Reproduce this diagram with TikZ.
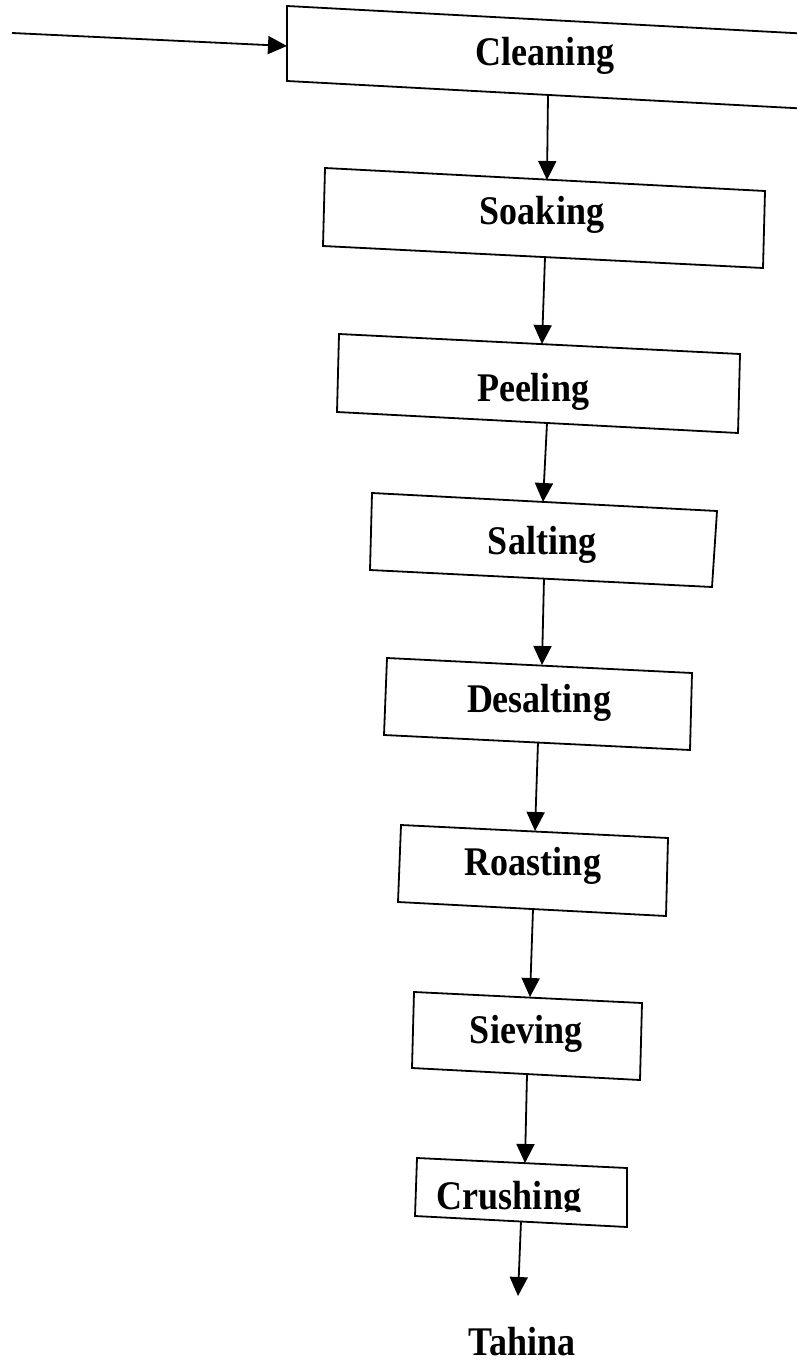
\documentclass[tikz,border=0pt]{standalone}
\usepackage{fontspec}
\setmainfont{Liberation Serif}
\usetikzlibrary{arrows.meta}
\newcommand{\tallbold}[1]{\scalebox{1}[1.13]{#1}}
\tikzset{
  flowbox/.style={draw=black, line width=1.8pt, line join=miter},
  flowarrow/.style={draw=black, line width=1.8pt, -{Triangle[length=19pt,width=18pt]}},
  steplabel/.style={font=\bfseries\fontsize{36}{40}\selectfont, anchor=base, inner sep=0pt},
}
\begin{document}
\begin{tikzpicture}[x=1pt,y=-1pt]
\useasboundingbox (0,0) rectangle (797,1364);
\clip (0,0) rectangle (797,1364);
\fill[white] (0,0) rectangle (797,1364);

% box corners
\coordinate (c1) at (287,6);   \coordinate (c2) at (830,35);  \coordinate (c3) at (830,110); \coordinate (c4) at (287,81);
\coordinate (s1) at (325,168); \coordinate (s2) at (765,191); \coordinate (s3) at (763,268); \coordinate (s4) at (323,246);
\coordinate (p1) at (339,334); \coordinate (p2) at (740,354); \coordinate (p3) at (738,433); \coordinate (p4) at (337,412);
\coordinate (a1) at (372,493); \coordinate (a2) at (717,511); \coordinate (a3) at (712,587); \coordinate (a4) at (370,570);
\coordinate (d1) at (387,658); \coordinate (d2) at (692,673); \coordinate (d3) at (690,750); \coordinate (d4) at (384,735);
\coordinate (r1) at (401,825); \coordinate (r2) at (668,838); \coordinate (r3) at (666,916); \coordinate (r4) at (398,902);
\coordinate (v1) at (414,992); \coordinate (v2) at (642,1003); \coordinate (v3) at (640,1080); \coordinate (v4) at (412,1068);
\coordinate (u1) at (417,1158); \coordinate (u2) at (627,1168); \coordinate (u3) at (627,1227); \coordinate (u4) at (415,1216);

% boxes
\draw[flowbox] (c1) -- (c2) -- (c3) -- (c4) -- cycle;
\draw[flowbox] (s1) -- (s2) -- (s3) -- (s4) -- cycle;
\draw[flowbox] (p1) -- (p2) -- (p3) -- (p4) -- cycle;
\draw[flowbox] (a1) -- (a2) -- (a3) -- (a4) -- cycle;
\draw[flowbox] (d1) -- (d2) -- (d3) -- (d4) -- cycle;
\draw[flowbox] (r1) -- (r2) -- (r3) -- (r4) -- cycle;
\draw[flowbox] (v1) -- (v2) -- (v3) -- (v4) -- cycle;
\draw[flowbox] (u1) -- (u2) -- (u3) -- (u4) -- cycle;

% labels
\node[steplabel] (cleaning) at (545,66) {\tallbold{Cleaning}};
\node[steplabel] (soaking) at (542,225) {\tallbold{Soaking}};
\node[steplabel] (peeling) at (533,401) {\tallbold{Peeling}};
\node[steplabel] (salting) at (542,554) {\tallbold{Salting}};
\node[steplabel] (desalting) at (539,712) {\tallbold{Desalting}};
\node[steplabel] (roasting) at (533,875) {\tallbold{Roasting}};
\node[steplabel] (sieving) at (526,1043) {\tallbold{Sieving}};
\begin{scope}
  \clip (420,1150) rectangle (620,1211);
  \node[steplabel] (crushing) at (509,1209) {\tallbold{Crushing}};
\end{scope}
\node[steplabel] (tahina) at (522,1355) {\tallbold{Tahina}};

% connector end points
\coordinate (in0) at (12,33);    \coordinate (cleanIn) at (287,46);
\coordinate (cleanOut) at (548,95);  \coordinate (soakIn) at (547,180);
\coordinate (soakOut) at (545,257);  \coordinate (peelIn) at (542,344);
\coordinate (peelOut) at (547,423);  \coordinate (saltIn) at (543,502);
\coordinate (saltOut) at (544,578);  \coordinate (desaltIn) at (542,665);
\coordinate (desaltOut) at (538,742); \coordinate (roastIn) at (535,831);
\coordinate (roastOut) at (533,909); \coordinate (sieveIn) at (530,997);
\coordinate (sieveOut) at (527,1074); \coordinate (crushIn) at (525,1163);
\coordinate (crushOut) at (521,1221); \coordinate (tahinaIn) at (518,1296);

% connectors
\draw[flowarrow] (in0) -- (cleanIn);
\draw[flowarrow] (cleanOut) -- (soakIn);
\draw[flowarrow] (soakOut) -- (peelIn);
\draw[flowarrow] (peelOut) -- (saltIn);
\draw[flowarrow] (saltOut) -- (desaltIn);
\draw[flowarrow] (desaltOut) -- (roastIn);
\draw[flowarrow] (roastOut) -- (sieveIn);
\draw[flowarrow] (sieveOut) -- (crushIn);
\draw[flowarrow] (crushOut) -- (tahinaIn);
\end{tikzpicture}
\end{document}
